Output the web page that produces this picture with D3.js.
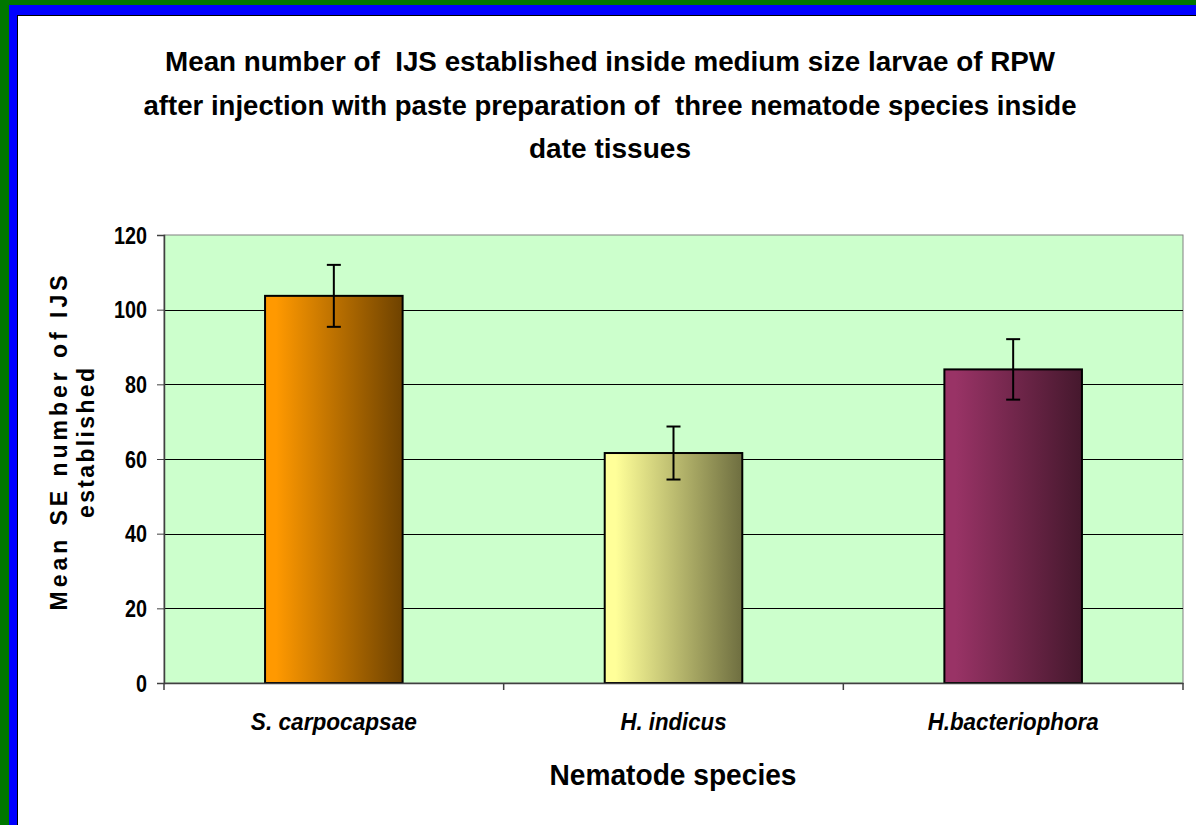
<!DOCTYPE html>
<html><head><meta charset="utf-8">
<script src="https://d3js.org/d3.v7.min.js"></script>
<style>body{margin:0;background:#fff}svg{display:block}text{font-family:"Liberation Sans",Arial,sans-serif;white-space:pre}</style>
</head><body>
<script>
const categories = ["S. carpocapsae", "H. indicus", "H.bacteriophora"];
const means = [103.7, 61.6, 84.0];
const errors = [8.3, 7.1, 8.1];
const yTicks = [0, 20, 40, 60, 80, 100, 120];
const barColors = [["#FF9900", "#6E4200"], ["#FFFF99", "#6E6E40"], ["#993366", "#45182D"]];
const titleLines = ["Mean number of  IJS established inside medium size larvae of RPW",
  "after injection with paste preparation of  three nematode species inside",
  "date tissues"];

const W = 1196, H = 825;
const svg = d3.select("body").append("svg").attr("width", W).attr("height", H);
svg.append("rect").attr("width", W).attr("height", H).attr("fill", "#fff");
// frame
svg.append("rect").attr("x", 0).attr("y", 0).attr("width", W).attr("height", 5).attr("fill", "#007700");
svg.append("rect").attr("x", 0).attr("y", 0).attr("width", 9).attr("height", H).attr("fill", "#007700");
svg.append("rect").attr("x", 9).attr("y", 5).attr("width", W - 9).attr("height", 10).attr("fill", "#0000FF");
svg.append("rect").attr("x", 9).attr("y", 5).attr("width", 8).attr("height", H - 5).attr("fill", "#0000FF");
svg.append("line").attr("x1", 17.5).attr("x2", 17.5).attr("y1", 15).attr("y2", H).attr("stroke", "#000");
svg.append("line").attr("x1", 17).attr("x2", W).attr("y1", 15.5).attr("y2", 15.5).attr("stroke", "#000");

const m = {l: 164, r: 1183, t: 235, b: 683};
const x = d3.scaleBand().domain(categories).range([m.l, m.r]).paddingInner(0).paddingOuter(0);
const y = d3.scaleLinear().domain([0, 120]).range([m.b, m.t]);

const defs = svg.append("defs");
barColors.forEach((c, i) => {
  const g = defs.append("linearGradient").attr("id", "g" + i).attr("x1", "0").attr("x2", "1").attr("y1", "0").attr("y2", "0");
  g.append("stop").attr("offset", "0.08").attr("stop-color", c[0]);
  g.append("stop").attr("offset", "1").attr("stop-color", c[1]);
});

svg.append("rect").attr("x", m.l).attr("y", m.t).attr("width", m.r - m.l).attr("height", m.b - m.t)
  .attr("fill", "#CCFFCC").attr("stroke", "#808080").attr("stroke-width", 1);

// gridlines
svg.append("g").selectAll("line").data(yTicks.filter(t => t > 0 && t < 120)).join("line")
  .attr("x1", m.l).attr("x2", m.r).attr("y1", d => Math.round(y(d)) + 0.5).attr("y2", d => Math.round(y(d)) + 0.5)
  .attr("stroke", "#000").attr("stroke-width", 1);

// bars
const bw = x.bandwidth() * 0.405;
svg.append("g").selectAll("rect").data(categories).join("rect")
  .attr("x", d => x(d) + (x.bandwidth() - bw) / 2)
  .attr("y", (d, i) => y(means[i]))
  .attr("width", bw)
  .attr("height", (d, i) => y(0) - y(means[i]))
  .attr("fill", (d, i) => `url(#g${i})`)
  .attr("stroke", "#000").attr("stroke-width", 2);

// error bars
const eb = svg.append("g").attr("stroke", "#000").attr("stroke-width", 2);
categories.forEach((c, i) => {
  const cx = x(c) + x.bandwidth() / 2;
  eb.append("line").attr("x1", cx).attr("x2", cx).attr("y1", y(means[i] + errors[i])).attr("y2", y(means[i] - errors[i]));
  [means[i] + errors[i], means[i] - errors[i]].forEach(v => {
    eb.append("line").attr("x1", cx - 7).attr("x2", cx + 7).attr("y1", y(v)).attr("y2", y(v));
  });
});

// axes
const ya = svg.append("g").attr("transform", `translate(${m.l},0)`)
  .call(d3.axisLeft(y).tickValues(yTicks).tickSize(7).tickPadding(10).tickFormat(d3.format("d")));
ya.select(".domain").attr("stroke", "#404040").attr("stroke-width", 1.5);
ya.selectAll(".tick line").attr("stroke", "#404040");
ya.selectAll(".tick text").attr("font-size", 23).attr("font-weight", "bold").attr("fill", "#000")
  .attr("font-family", "Liberation Sans, Arial, sans-serif")
  .attr("x", 0).attr("dy", "0.35em")
  .attr("transform", "translate(-17,0) scale(0.86,1)");

const xa = svg.append("g").attr("transform", `translate(0,${m.b})`)
  .call(d3.axisBottom(x).tickSize(0).tickFormat(""));
xa.select(".domain").attr("stroke", "#404040").attr("stroke-width", 1.5);
svg.append("g").selectAll("line").data([...categories.map(c => x(c)), m.r]).join("line")
  .attr("x1", d => d).attr("x2", d => d).attr("y1", m.b).attr("y2", m.b + 7).attr("stroke", "#404040").attr("stroke-width", 1.5);

const xLabelW = [166, 106, 171];
svg.append("g").selectAll("text").data(categories).join("text")
  .attr("x", d => x(d) + x.bandwidth() / 2).attr("y", 730)
  .attr("text-anchor", "middle").attr("font-size", 23).attr("font-weight", "bold").attr("font-style", "italic")
  .attr("textLength", (d, i) => xLabelW[i]).attr("lengthAdjust", "spacingAndGlyphs")
  .text(d => d);

// titles
const tl = [[890, 71], [933, 115], [162, 158]];
titleLines.forEach((t, i) => {
  svg.append("text").attr("x", 610).attr("y", tl[i][1]).attr("text-anchor", "middle")
    .attr("font-size", 28).attr("font-weight", "bold")
    .attr("textLength", tl[i][0]).attr("lengthAdjust", "spacingAndGlyphs").text(t);
});

svg.append("text").attr("x", 673).attr("y", 785).attr("text-anchor", "middle")
  .attr("font-size", 29).attr("font-weight", "bold")
  .attr("textLength", 247).attr("lengthAdjust", "spacingAndGlyphs").text("Nematode species");

const yl = svg.append("g").attr("transform", "translate(0,443) rotate(-90)");
yl.append("text").attr("x", 0).attr("y", 67).attr("text-anchor", "middle").attr("font-size", 23).attr("font-weight", "bold")
  .style("white-space", "normal")
  .attr("textLength", 335).attr("lengthAdjust", "spacing").text("Mean  SE number of IJS");
yl.append("text").attr("x", 0).attr("y", 94).attr("text-anchor", "middle").attr("font-size", 23).attr("font-weight", "bold")
  .attr("textLength", 150).attr("lengthAdjust", "spacing").text("established");
</script>
</body></html>
